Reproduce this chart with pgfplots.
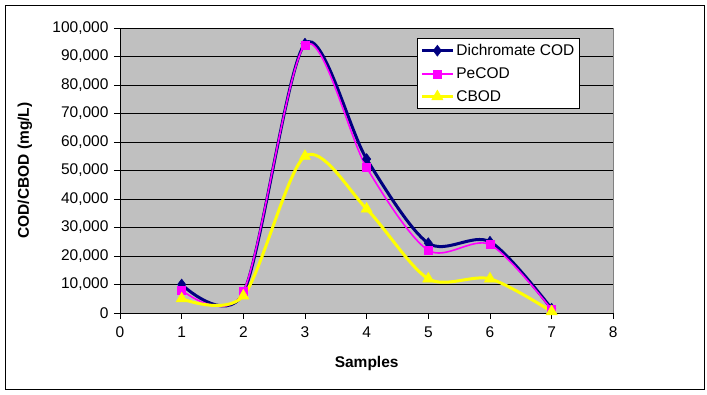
\documentclass[border=0pt]{standalone}
\usepackage{pgfplots}
\pgfplotsset{compat=1.18}
\usepackage{fontspec}
\setmainfont{Liberation Sans}
\definecolor{navyc}{RGB}{0,0,128}
\definecolor{magc}{RGB}{255,0,255}
\definecolor{yelc}{RGB}{255,255,0}
\definecolor{bgc}{RGB}{192,192,192}
\definecolor{bordc}{RGB}{128,128,128}
\begin{document}
\begin{tikzpicture}[x=1pt,y=1pt]
\path (0,0) rectangle (707,395);
\draw[black, line width=0.8pt] (5,6) rectangle (704,390);
\begin{axis}[
  at={(120pt,82pt)}, anchor=south west,
  scale only axis, width=493.3pt, height=285pt,
  xmin=0, xmax=8, ymin=0, ymax=100000,
  xtick={0,1,...,8}, ytick={0,10000,...,100000},
  scaled y ticks=false,
  axis x line*=bottom, axis y line*=left,
  axis line style={black, line width=0.8pt},
  axis background/.style={fill=bgc, draw=bordc, line width=0.8pt},
  tick align=outside, major tick length=6pt,
  tick style={black, line width=0.8pt},
  ymajorgrids, grid style={black, line width=0.8pt},
  tick label style={font=\fontsize{15.5}{18}\selectfont},
  /pgf/number format/fixed,
  /pgf/number format/precision=0,
  /pgf/number format/1000 sep={,},
  /pgf/number format/assume math mode=true,
  yticklabel style={xshift=-2pt},
  xticklabel style={yshift=-4pt},
  every axis y label/.style={at={(axis description cs:0,0.5)}, xshift=-95pt, rotate=90, anchor=center, font=\bfseries\fontsize{15.5}{18}\selectfont},
  every axis x label/.style={at={(axis description cs:0.5,0)}, yshift=-50pt, anchor=center, font=\bfseries\fontsize{15.5}{18}\selectfont},
  ylabel={COD/CBOD (mg/L)}, xlabel={Samples},
  clip=false,
  legend style={at={(axis description cs:0.602,0.965)}, anchor=north west, draw=black, fill=white, line width=0.8pt, font=\fontsize{15.5}{18}\selectfont, row sep=6.5pt, inner sep=3pt, inner ysep=4pt},
  legend cell align=left,
  legend image code/.code={\draw[mark repeat=2,mark phase=2,#1] plot coordinates {(0pt,0pt)(15.5pt,0pt)(31pt,0pt)};},
]
\addplot[navyc, line width=3pt, smooth, mark=diamond*, mark size=5.5pt, mark options={solid, fill=navyc, line width=0.5pt}]
coordinates {(1,10000) (2,7000) (3,94500) (4,54000) (5,24500) (6,25000) (7,1500)};
\addlegendentry{Dichromate COD}
\addplot[magc, line width=1.6pt, smooth, mark=square*, mark size=4pt, mark options={solid, fill=magc, line width=0.5pt}]
coordinates {(1,8000) (2,7500) (3,94000) (4,51000) (5,22000) (6,24000) (7,1200)};
\addlegendentry{PeCOD}
\addplot[yelc, line width=3pt, smooth, mark=triangle*, mark size=6.5pt, mark options={solid, fill=yelc, line width=0.5pt}]
coordinates {(1,5000) (2,6000) (3,55000) (4,36500) (5,12000) (6,12000) (7,500)};
\addlegendentry{CBOD}
\end{axis}
\end{tikzpicture}
\end{document}
